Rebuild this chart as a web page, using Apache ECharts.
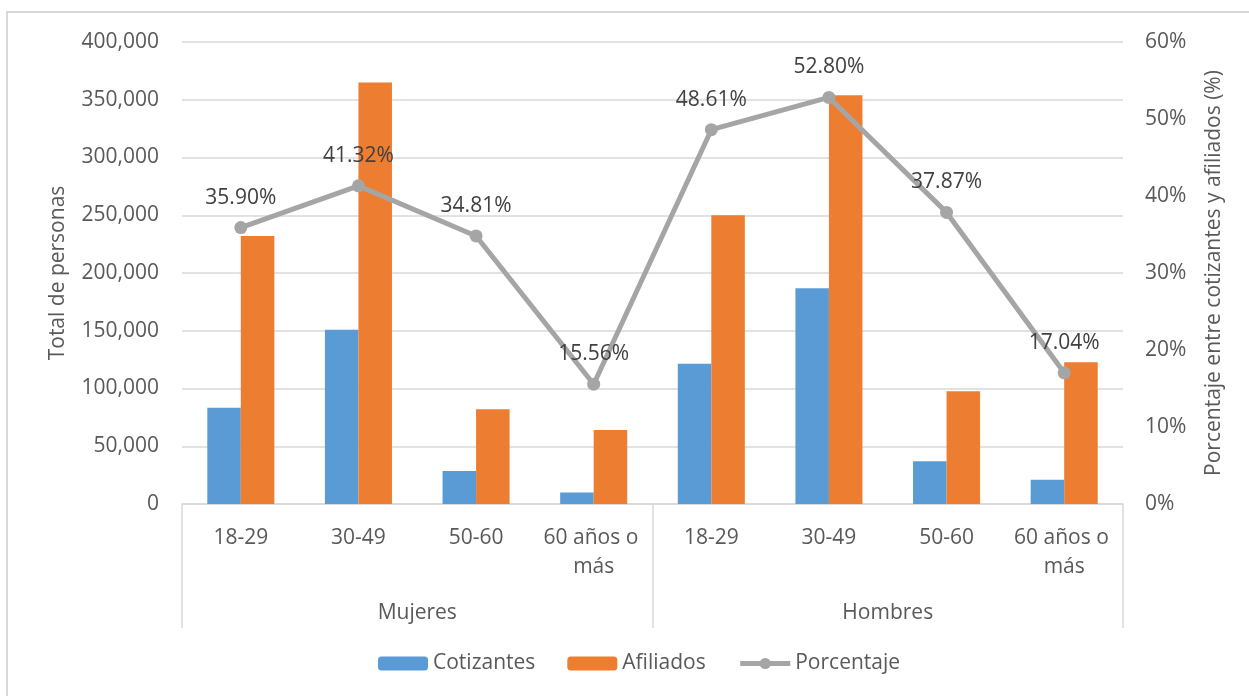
<!DOCTYPE html>
<html>
<head>
<meta charset="utf-8">
<title>Cotizantes y afiliados por sexo y edad</title>
<script src="https://cdn.jsdelivr.net/npm/echarts@6/dist/echarts.min.js"></script>
<style>
  html, body { margin: 0; padding: 0; background: #ffffff; }
  #chart { width: 1249px; height: 696px; }
</style>
</head>
<body>
<div id="chart"></div>
<script>
// Age brackets, repeated for each sex group
const ageGroups = ['18-29', '30-49', '50-60', '60 años o más'];
const sexGroups = ['Mujeres', 'Hombres'];
const categories = sexGroups.flatMap(() => ageGroups);

// People contributing (cotizantes) and enrolled (afiliados)
const cotizantes = [83300, 150800, 28500, 10000, 121500, 186900, 37000, 20900];
const afiliados = [232000, 365000, 82000, 64000, 250000, 354000, 97700, 122800];
// Share of contributors among the enrolled, in percent
const porcentaje = [35.90, 41.32, 34.81, 15.56, 48.61, 52.80, 37.87, 17.04];

const FONT = 'Open Sans';
const TEXT = '#595959';
const GRID = '#D9D9D9';
const LINE = '#A5A5A5';

const chart = echarts.init(document.getElementById('chart'), null, { renderer: 'canvas' });

chart.setOption({
  backgroundColor: '#ffffff',
  textStyle: { fontFamily: FONT, color: TEXT },
  animation: false,
  graphic: [{
    type: 'rect',
    shape: { x: 7, y: 12, width: 1300, height: 800 },
    style: { fill: 'none', stroke: GRID, lineWidth: 2 },
    silent: true,
    z: -10
  }],
  grid: { left: 182, right: 126, top: 42, bottom: 192 },
  legend: {
    bottom: 17,
    left: 373,
    itemWidth: 50,
    itemHeight: 14,
    itemGap: 32,
    textStyle: { fontFamily: FONT, fontSize: 21, color: TEXT },
    data: [
      'Cotizantes',
      'Afiliados',
      {
        name: 'Porcentaje',
        itemStyle: { color: LINE },
        lineStyle: { color: LINE, width: 5 }
      }
    ]
  },
  xAxis: [
    {
      type: 'category',
      data: categories,
      position: 'bottom',
      axisLine: { show: true, lineStyle: { color: GRID, width: 1.5 } },
      axisTick: { show: false },
      axisLabel: {
        fontFamily: FONT, fontSize: 21, color: TEXT,
        margin: 20, lineHeight: 29,
        width: 112, overflow: 'break', interval: 0
      }
    },
    {
      type: 'category',
      data: sexGroups,
      position: 'bottom',
      axisLine: { show: false },
      axisTick: { show: true, length: 124, lineStyle: { color: GRID, width: 1.5 } },
      axisLabel: {
        fontFamily: FONT, fontSize: 21, color: TEXT,
        margin: 95, lineHeight: 29, interval: 0
      }
    }
  ],
  yAxis: [
    {
      type: 'value',
      min: 0, max: 400000, interval: 50000,
      name: 'Total de personas',
      nameLocation: 'middle',
      nameRotate: 90,
      nameGap: 113,
      nameTextStyle: { fontFamily: FONT, fontSize: 21, color: TEXT },
      axisLine: { show: false },
      axisTick: { show: false },
      splitLine: { lineStyle: { color: GRID, width: 1.5 } },
      axisLabel: {
        fontFamily: FONT, fontSize: 21, color: TEXT, margin: 23,
        formatter: v => v.toLocaleString('en-US')
      }
    },
    {
      type: 'value',
      min: 0, max: 60, interval: 10,
      position: 'right',
      name: 'Porcentaje entre cotizantes y afiliados (%)',
      nameLocation: 'middle',
      nameRotate: 90,
      nameGap: 81,
      nameTextStyle: { fontFamily: FONT, fontSize: 21, color: TEXT },
      axisLine: { show: false },
      axisTick: { show: false },
      splitLine: { show: false },
      axisLabel: {
        fontFamily: FONT, fontSize: 21, color: TEXT, margin: 22,
        formatter: v => v + '%'
      }
    }
  ],
  series: [
    {
      name: 'Cotizantes',
      type: 'bar',
      xAxisIndex: 0, yAxisIndex: 0,
      data: cotizantes,
      barGap: '0%',
      barCategoryGap: '43%',
      itemStyle: { color: '#5B9BD5' }
    },
    {
      name: 'Afiliados',
      type: 'bar',
      xAxisIndex: 0, yAxisIndex: 0,
      data: afiliados,
      barGap: '0%',
      barCategoryGap: '43%',
      itemStyle: { color: '#ED7D31' }
    },
    {
      name: 'Porcentaje',
      type: 'line',
      xAxisIndex: 0, yAxisIndex: 1,
      data: porcentaje,
      symbol: 'circle',
      symbolSize: 13,
      lineStyle: { color: LINE, width: 5, join: 'round' },
      itemStyle: { color: LINE },
      label: {
        show: true,
        position: 'top',
        distance: 13,
        fontFamily: FONT,
        fontSize: 21,
        color: '#404040',
        formatter: p => p.value.toFixed(2) + '%'
      },
      z: 5
    }
  ]
});
</script>
</body>
</html>
